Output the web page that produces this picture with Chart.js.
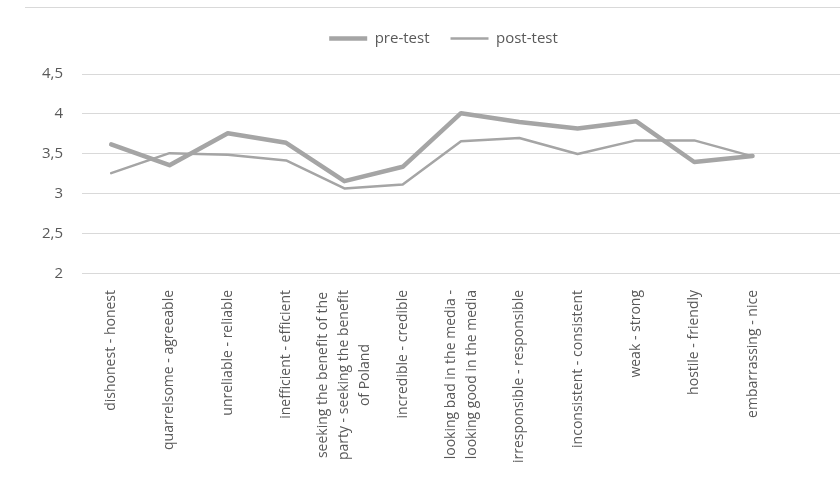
<!DOCTYPE html>
<html>
<head>
<meta charset="utf-8">
<script src="https://cdn.jsdelivr.net/npm/chart.js@4.4.0/dist/chart.umd.min.js"></script>
<style>
    html, body { margin: 0; padding: 0; background: #ffffff; }
    #wrap { position: relative; width: 840px; height: 478px; }
    /* thin frame line across the top, like the source chart */
    #frame { position: absolute; top: 7px; left: 25px; right: 0; border-top: 1px solid #d9d9d9; }
</style>
</head>
<body>
<div id="wrap">
    <div id="frame"></div>
    <canvas id="chart" width="840" height="478"></canvas>
</div>
<script>
// ======================= //
//          DATA           //
// ======================= //
const categories = [
    'dishonest - honest',
    'quarrelsome - agreeable',
    'unreliable - reliable',
    'inefficient - efficient',
    ['seeking the benefit of the', 'party - seeking the benefit', 'of Poland'],
    'incredible - credible',
    ['looking bad in the media -', 'looking good in the media'],
    'irresponsible - responsible',
    'inconsistent - consistent',
    'weak - strong',
    'hostile - friendly',
    'embarrassing - nice',
    '' // empty slot at the right end of the axis
];
const preTest  = [3.62, 3.36, 3.76, 3.64, 3.16, 3.34, 4.01, 3.90, 3.82, 3.91, 3.40, 3.475];
const postTest = [3.26, 3.51, 3.49, 3.42, 3.07, 3.12, 3.66, 3.70, 3.50, 3.67, 3.67, 3.47];
const yMin = 2;
const yMax = 4.5;
const yStep = 0.5;

const textColor = '#595959';
const gridColor = '#d9d9d9';
const lineColor = '#a5a5a5';

// extra room between the legend and the plot, legend nudged right
const legendGap = {
    id: 'legendGap',
    beforeInit(chart) {
        const fit = chart.legend.fit;
        chart.legend.fit = function () {
            fit.call(this);
            this.height += 18;
        };
    },
    afterLayout(chart) {
        chart.legend.left += 12;
        chart.legend.right += 12;
    }
};

// center the wrapped (multi-line) category labels on their tick
const centerWrappedLabels = {
    id: 'centerWrappedLabels',
    beforeDraw(chart) {
        const items = chart.scales.x.getLabelItems();
        const c = chart.ctx;
        items.forEach(item => {
            if (!Array.isArray(item.label) || item._centered) return;
            const lh = item.font.lineHeight;
            c.save();
            c.font = item.font.string;
            const widest = Math.max(...item.label.map(l => c.measureText(l).width));
            c.restore();
            item.options.translation[0] -= (item.label.length - 1) * lh / 2;
            item.options.translation[1] += widest / 2;
            item.options.textAlign = 'center';
            item._centered = true;
        });
    }
};

// ======================= //
//          CHART          //
// ======================= //
const ctx = document.getElementById('chart').getContext('2d');
new Chart(ctx, {
    type: 'line',
    data: {
        labels: categories,
        datasets: [{
            label: 'pre-test',
            data: preTest,
            borderColor: lineColor,
            backgroundColor: lineColor,
            borderWidth: 4.5,
            pointRadius: 0,
            borderJoinStyle: 'round',
            borderCapStyle: 'round',
            tension: 0
        }, {
            label: 'post-test',
            data: postTest,
            borderColor: lineColor,
            backgroundColor: lineColor,
            borderWidth: 2.5,
            pointRadius: 0,
            borderJoinStyle: 'round',
            borderCapStyle: 'round',
            tension: 0
        }]
    },
    plugins: [legendGap, centerWrappedLabels],
    options: {
        responsive: false,
        devicePixelRatio: 1,
        animation: false,
        layout: {
            padding: { top: 10, left: 23, right: 0, bottom: 15 }
        },
        plugins: {
            legend: {
                position: 'top',
                labels: {
                    usePointStyle: true,
                    pointStyle: 'line',
                    pointStyleWidth: 38,
                    color: textColor,
                    padding: 21,
                    font: { family: '"Open Sans", sans-serif', size: 15 }
                }
            },
            tooltip: { enabled: false }
        },
        scales: {
            x: {
                offset: true,
                // invisible tick marks only to keep the labels away from the axis
                grid: { display: true, color: 'rgba(0,0,0,0)', drawTicks: true, tickLength: 16 },
                border: { display: true, color: gridColor },
                ticks: {
                    autoSkip: false,
                    minRotation: 90,
                    maxRotation: 90,
                    padding: 0,
                    color: textColor,
                    font: { family: '"Open Sans", sans-serif', size: 14, lineHeight: 1.5 }
                }
            },
            y: {
                min: yMin,
                max: yMax,
                grid: { color: gridColor, drawTicks: false },
                border: { display: false },
                ticks: {
                    stepSize: yStep,
                    padding: 19,
                    color: textColor,
                    font: { family: '"Open Sans", sans-serif', size: 15 },
                    callback: (v) => String(v).replace('.', ',')
                }
            }
        }
    }
});
</script>
</body>
</html>
